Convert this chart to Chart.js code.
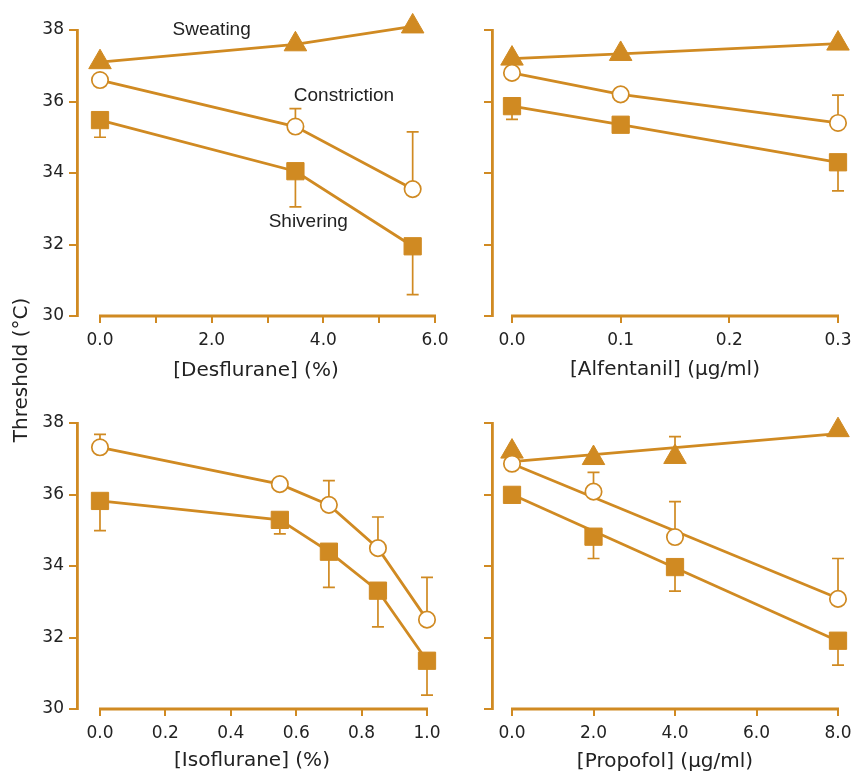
<!DOCTYPE html>
<html><head><meta charset="utf-8">
<script src="https://cdn.jsdelivr.net/npm/chart.js@4.4.1/dist/chart.umd.min.js"></script>
<style>
html,body{margin:0;padding:0;background:#fff;overflow:hidden;}
#wrap{position:relative;width:853px;height:775px;overflow:hidden;background:#fff;}
canvas{position:absolute;}
#ytitle{position:absolute;left:-80px;top:358px;width:200px;height:24px;line-height:24px;text-align:center;transform:rotate(-90deg);font-family:"DejaVu Sans";font-size:20px;color:#222;white-space:nowrap;}
</style></head><body>
<div id="wrap">
<canvas id="c1" width="475" height="392" style="left:0;top:0"></canvas>
<canvas id="c2" width="430" height="392" style="left:450px;top:0"></canvas>
<canvas id="c3" width="475" height="383" style="left:0;top:392px"></canvas>
<canvas id="c4" width="430" height="383" style="left:450px;top:392px"></canvas>
<div id="ytitle">Threshold (°C)</div>
</div>
<script>
// ---------- data ----------
const yTicks = [30, 32, 34, 36, 38];

const desX = [0, 3.5, 5.6];
const desSweat = [37.1, 37.6, 38.1];
const desConstr = [36.6, 35.3, 33.55];
const desConstrErr = [0, 0.5, 1.6];
const desShiv = [35.48, 34.05, 31.95];
const desShivErr = [0.48, 1.0, 1.35];
const desTicks = [0, 1, 2, 3, 4, 5, 6];

const alfX = [0, 0.1, 0.3];
const alfSweat = [37.2, 37.33, 37.62];
const alfConstr = [36.8, 36.2, 35.4];
const alfConstrErr = [0, 0, 0.78];
const alfShiv = [35.87, 35.35, 34.3];
const alfShivErr = [0.37, 0, 0.8];
const alfTicks = [0, 0.1, 0.2, 0.3];

const isoX = [0, 0.55, 0.7, 0.85, 1.0];
const isoConstr = [37.32, 36.29, 35.71, 34.5, 32.5];
const isoConstrErr = [0.36, 0, 0.68, 0.87, 1.18];
const isoShiv = [35.82, 35.29, 34.4, 33.31, 31.35];
const isoShivErr = [0.83, 0.39, 1.0, 1.01, 0.96];
const isoTicks = [0, 0.2, 0.4, 0.6, 0.8, 1.0];

const proX = [0, 2, 4, 8];
const proSweat = [37.2, 37.02, 37.05, 37.8];
const proSweatErr = [0, 0, 0.57, 0];
const proConstr = [36.86, 36.08, 34.81, 33.08];
const proConstrErr = [0, 0.54, 0.99, 1.13];
const proShiv = [35.99, 34.82, 33.97, 31.91];
const proShivErr = [0, 0.61, 0.67, 0.68];
const proFitX = [0, 8];
const proSweatFit = [36.92, 37.7];
const proConstrFit = [36.86, 33.1];
const proShivFit = [36.0, 31.9];
const proTicks = [0, 2, 4, 6, 8];

// ---------- style ----------
const C = '#D08A22';
const TXT = '#222';
const tickFont = {family: 'DejaVu Sans', size: 17};
const titleFont = {family: 'DejaVu Sans', size: 20};

const pts = (xs, ys) => xs.map((x, i) => ({x, y: ys[i]}));

function series(kind, xs, ys, errs, showLine) {
  const base = {
    data: pts(xs, ys), showLine: showLine, borderColor: C, borderWidth: 2.8,
    clip: false, errors: errs || null, pointBorderColor: C
  };
  if (kind === 'sweat') Object.assign(base, {pointStyle: 'triangle', pointRadius: 13, pointBorderWidth: 1, pointBackgroundColor: C, errDir: 1, order: 3});
  if (kind === 'constr') Object.assign(base, {pointStyle: 'circle', pointRadius: 8.2, pointBorderWidth: 1.7, pointBackgroundColor: '#fff', errDir: 1, order: 2});
  if (kind === 'shiv') Object.assign(base, {pointStyle: 'rect', pointRadius: 12.2, pointBorderWidth: 1, pointBackgroundColor: C, errDir: -1, order: 1});
  return base;
}
function fitLine(xs, ys) {
  return {data: pts(xs, ys), showLine: true, borderColor: C, borderWidth: 2.8, pointRadius: 0, clip: false, order: 10};
}

const errorBars = {
  id: 'errorBars',
  beforeDatasetsDraw(chart) {
    const {ctx} = chart; const x = chart.scales.x, y = chart.scales.y;
    ctx.save(); ctx.strokeStyle = C; ctx.lineWidth = 1.7;
    chart.data.datasets.forEach(ds => {
      if (!ds.errors) return;
      ds.data.forEach((p, i) => {
        const e = ds.errors[i]; if (!e) return;
        const px = x.getPixelForValue(p.x);
        const y0 = y.getPixelForValue(p.y);
        const y1 = y.getPixelForValue(p.y + ds.errDir * e);
        ctx.beginPath(); ctx.moveTo(px, y0); ctx.lineTo(px, y1);
        ctx.moveTo(px - 6, y1); ctx.lineTo(px + 6, y1); ctx.stroke();
      });
    });
    ctx.restore();
  }
};
const xAxisLine = {
  id: 'xAxisLine',
  beforeDatasetsDraw(chart) {
    const {ctx, chartArea} = chart; const x = chart.scales.x;
    ctx.save(); ctx.strokeStyle = C; ctx.lineWidth = 2.8;
    ctx.beginPath();
    ctx.moveTo(x.getPixelForValue(0) - 1, chartArea.bottom);
    ctx.lineTo(x.getPixelForValue(x.max) + 1, chartArea.bottom);
    ctx.stroke(); ctx.restore();
  }
};
const textLabels = {
  id: 'textLabels',
  afterDatasetsDraw(chart, args, opts) {
    if (!opts.items) return;
    const {ctx} = chart; const x = chart.scales.x, y = chart.scales.y;
    ctx.save(); ctx.fillStyle = TXT; ctx.font = '19px "Liberation Sans"';
    ctx.textAlign = 'center'; ctx.textBaseline = 'middle';
    opts.items.forEach(it => ctx.fillText(it.text, x.getPixelForValue(it.x), y.getPixelForValue(it.y)));
    ctx.restore();
  }
};

function makeChart(id, cfg) {
  return new Chart(document.getElementById(id), {
    type: 'scatter',
    data: {datasets: cfg.datasets},
    plugins: [errorBars, xAxisLine, textLabels],
    options: {
      responsive: false, animation: false, devicePixelRatio: 1,
      layout: {padding: cfg.padding},
      plugins: {legend: {display: false}, tooltip: {enabled: false}, textLabels: {items: cfg.labels || null}},
      scales: {
        x: {
          type: 'linear', min: cfg.xmin, max: cfg.xmax,
          afterBuildTicks: s => { s.ticks = cfg.xticks.map(v => ({value: v})); },
          afterFit: s => { s.height = cfg.xh; },
          grid: {drawOnChartArea: false, drawTicks: true, tickLength: 7, color: C, lineWidth: 2},
          border: {display: false},
          ticks: {autoSkip: false, maxRotation: 0, padding: 7, color: TXT, font: tickFont,
                  callback: v => cfg.xlab(v)},
          title: {display: true, text: cfg.xtitle, color: TXT, font: titleFont, padding: {top: 0, bottom: cfg.tpb}}
        },
        y: {
          type: 'linear', min: 30, max: 38,
          afterBuildTicks: s => { s.ticks = yTicks.map(v => ({value: v})); },
          afterFit: s => { s.width = cfg.yw; },
          grid: {drawOnChartArea: false, drawTicks: true, tickLength: 8, color: C, lineWidth: 2},
          border: {display: true, color: C, width: 2.8},
          ticks: {padding: 5, color: TXT, font: tickFont,
                  callback: v => cfg.ylabels ? String(v) : ''}
        }
      }
    }
  });
}

makeChart('c1', {
  datasets: [
    series('sweat', desX, desSweat, null, true),
    series('constr', desX, desConstr, desConstrErr, true),
    series('shiv', desX, desShiv, desShivErr, true)
  ],
  padding: {left: 0, top: 30, right: 40, bottom: 0},
  xmin: -0.412, xmax: 6, xticks: desTicks, xh: 76, yw: 77, tpb: 9, ylabels: true,
  xlab: v => (Math.round(v) % 2 === 0 ? v.toFixed(1) : ''),
  xtitle: '[Desflurane] (%)',
  labels: [
    {text: 'Sweating', x: 2.0, y: 38.0},
    {text: 'Constriction', x: 4.37, y: 36.15},
    {text: 'Shivering', x: 3.73, y: 32.64}
  ]
});

makeChart('c2', {
  datasets: [
    series('sweat', alfX, alfSweat, null, true),
    series('constr', alfX, alfConstr, alfConstrErr, true),
    series('shiv', alfX, alfShiv, alfShivErr, true)
  ],
  padding: {left: 0, top: 30, right: 42, bottom: 0},
  xmin: -0.0184, xmax: 0.3, xticks: alfTicks, xh: 76, yw: 42, tpb: 10, ylabels: false,
  xlab: v => v.toFixed(1),
  xtitle: '[Alfentanil] (µg/ml)'
});

makeChart('c3', {
  datasets: [
    series('constr', isoX, isoConstr, isoConstrErr, true),
    series('shiv', isoX, isoShiv, isoShivErr, true)
  ],
  padding: {left: 0, top: 31, right: 48, bottom: 0},
  xmin: -0.0703, xmax: 1.0, xticks: isoTicks, xh: 66, yw: 77, tpb: 2, ylabels: true,
  xlab: v => v.toFixed(1),
  xtitle: '[Isoflurane] (%)'
});

makeChart('c4', {
  datasets: [
    fitLine(proFitX, proSweatFit),
    fitLine(proFitX, proConstrFit),
    fitLine(proFitX, proShivFit),
    series('sweat', proX, proSweat, proSweatErr, false),
    series('constr', proX, proConstr, proConstrErr, false),
    series('shiv', proX, proShiv, proShivErr, false)
  ],
  padding: {left: 0, top: 31, right: 42, bottom: 0},
  xmin: -0.491, xmax: 8, xticks: proTicks, xh: 66, yw: 42, tpb: 1, ylabels: false,
  xlab: v => v.toFixed(1),
  xtitle: '[Propofol] (µg/ml)'
});
</script>
</body></html>
